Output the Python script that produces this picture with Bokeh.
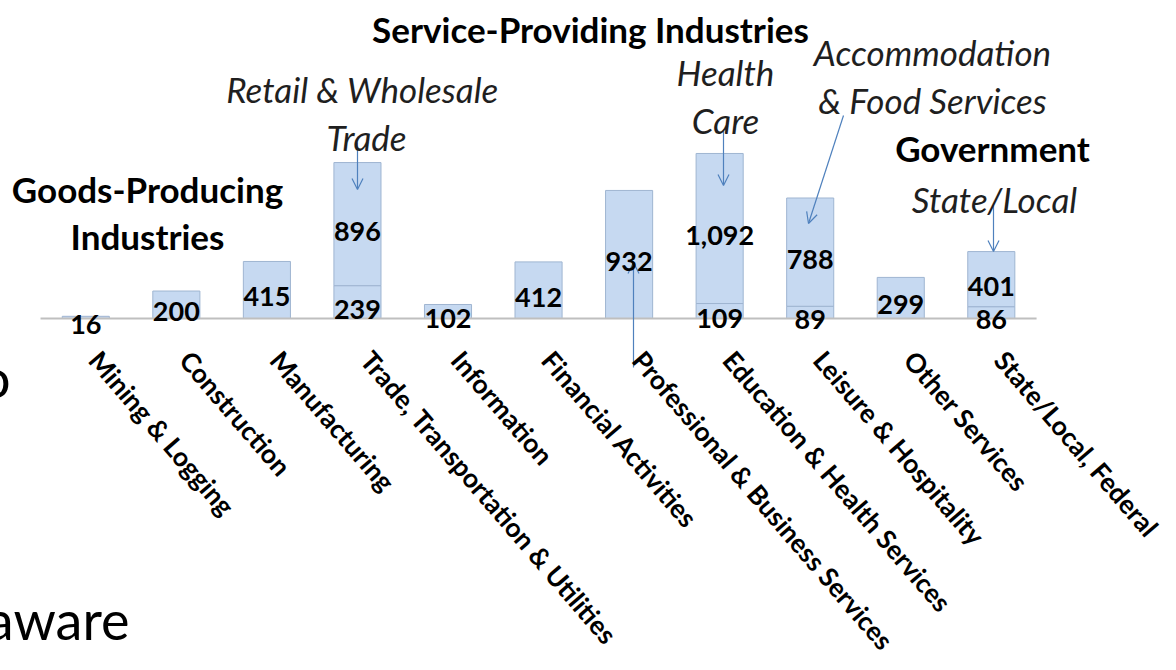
from bokeh.plotting import figure
from bokeh.models import Range1d, Arrow, OpenHead
from bokeh.core.properties import value
from bokeh.embed import file_html
from bokeh.resources import INLINE

# ---------------- data ----------------
categories = ["Mining & Logging", "Construction", "Manufacturing",
              "Trade, Transportation & Utilities", "Information",
              "Financial Activities", "Professional & Business Services",
              "Education & Health Services", "Leisure & Hospitality",
              "Other Services", "State/Local, Federal"]
base_values = [16, 200, 415, 239, 102, 412, 932, 109, 89, 299, 86]
sub_values = [0, 0, 0, 896, 0, 0, 0, 1092, 788, 0, 401]

headers = ["Service-Providing Industries", "Goods-Producing", "Industries", "Government"]
callouts = ["Retail & Wholesale", "Trade", "Health", "Care",
            "Accommodation", "& Food Services", "State/Local"]

# ---------------- geometry ----------------
W, H = 1160, 654
PITCH = 90.55          # px per category
X0 = 85.3              # canvas x of first category centre
BASE = 318.0           # canvas y of zero line
PPU = 0.1374           # px per unit

def dx(ix):            # image x -> data x
    return (ix - 8 - X0) / PITCH

def dy(iy):            # image y -> data y
    return (BASE - (iy - 8)) / PPU

p = figure(width=W, height=H, output_backend="svg", toolbar_location=None,
           x_axis_location=None, y_axis_location=None,
           min_border=0, min_border_left=0, min_border_right=0,
           min_border_top=0, min_border_bottom=0)
p.x_range = Range1d(-X0 / PITCH, (W - X0) / PITCH)
p.y_range = Range1d(-(H - BASE) / PPU, BASE / PPU)
p.outline_line_color = None
p.grid.visible = False
p.background_fill_color = "white"
p.border_fill_color = "white"

n = len(categories)
xs = list(range(n))

BAR_FILL = "#c6d9f1"
BAR_LINE = "#9fb5d1"

# lower segments
p.vbar(x=xs, bottom=0, top=base_values, width=0.52,
       fill_color=BAR_FILL, line_color=BAR_LINE, line_width=1)
# upper segments
ux = [x for x, s in zip(xs, sub_values) if s > 0]
ub = [b for b, s in zip(base_values, sub_values) if s > 0]
ut = [b + s for b, s in zip(base_values, sub_values) if s > 0]
us = [s for s in sub_values if s > 0]
p.vbar(x=ux, bottom=ub, top=ut, width=0.52,
       fill_color=BAR_FILL, line_color=BAR_LINE, line_width=1)

# zero line
p.segment(x0=[-0.5], y0=[0], x1=[n - 0.5], y1=[0], line_color="#bfbfbf", line_width=2)

# value labels
p.text(x=xs, y=[b / 2 for b in base_values], text=[f"{b:,}" for b in base_values],
       text_align="center", text_baseline="middle", y_offset=7,
       text_font=value("Lato"), text_font_style="bold", text_font_size="27px",
       text_color="black", level="overlay")
p.text(x=ux, y=[b + s / 2 for b, s in zip(ub, us)], text=[f"{s:,}" for s in us],
       text_align="center", text_baseline="middle", y_offset=7,
       text_font=value("Lato"), text_font_style="bold", text_font_size="27px",
       text_color="black", level="overlay")

# category labels
p.text(x=xs, y=[0] * n, text=categories, angle=-0.86,
       text_align="left", text_baseline="top", x_offset=21, y_offset=26,
       text_font=value("Lato"), text_font_style="bold", text_font_size="26.5px",
       text_color="black", level="overlay")

# headers (bold)
hx = [598, 155, 155, 1000]
hy = [36, 196, 243, 155]
p.text(x=[dx(v) for v in hx], y=[dy(v) for v in hy], text=headers,
       text_align="center", text_baseline="alphabetic",
       text_font=value("Lato"), text_font_style="bold", text_font_size="35px",
       text_color="black", level="overlay")

# callouts (italic)
cx = [370, 374, 733, 733, 940, 940, 1002]
cy = [96, 144, 79, 127, 59, 107, 206]
p.text(x=[dx(v) for v in cx], y=[dy(v) for v in cy], text=callouts,
       text_align="center", text_baseline="alphabetic",
       text_font=value("Lato"), text_font_style="italic", text_font_size="35px",
       text_color="#1f1f1f", level="overlay")

# arrows
ARROW = "#4f81bd"
arrows = [((365, 150), (365, 197)),
          ((731, 137), (731, 193)),
          ((851, 123), (816, 231)),
          ((1001, 213), (1001, 259)),
          ((641, 375), (641, 270))]
for (sx, sy), (ex, ey) in arrows:
    p.add_layout(Arrow(end=OpenHead(size=11, line_color=ARROW, line_width=1.2),
                       x_start=dx(sx), y_start=dy(sy), x_end=dx(ex), y_end=dy(ey),
                       line_color=ARROW, line_width=1.2))

# slide text fragments behind the chart
p.text(x=[dx(18), dx(137)], y=[dy(385), dy(627)], text=["to", "unaware"],
       text_align="right", text_baseline="alphabetic",
       text_font=value("Lato"), text_font_size="54px",
       text_color="black", level="overlay")

open("out.html", "w").write(file_html(p, INLINE))
